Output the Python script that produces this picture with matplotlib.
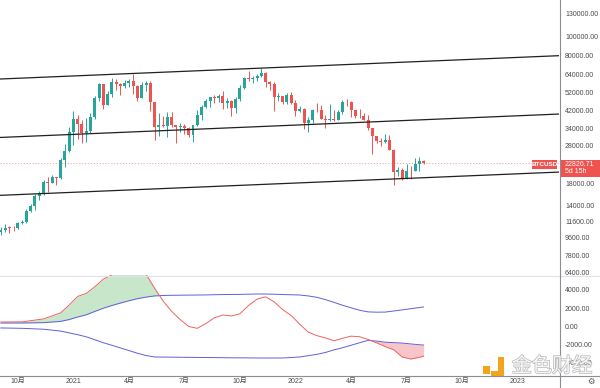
import numpy as np
import matplotlib
matplotlib.use("Agg")
import matplotlib.pyplot as plt
import matplotlib.patheffects as pe
from matplotlib.patches import Rectangle
from matplotlib.lines import Line2D
from matplotlib.ticker import NullLocator, FuncFormatter

plt.rcParams['font.family'] = ['Liberation Sans', 'Noto Sans CJK SC', 'DejaVu Sans']

# ---------------------------------------------------------------------------
#  Weekly BTCUSD candles, 2020-09-07 .. 2022-08-01 (bar index = week number)
# ---------------------------------------------------------------------------
opens = [10280, 10440, 10760, 10730, 10670, 11370, 11500, 13030, 13780, 15490,
         16050, 18400, 18180, 19380, 19150, 23800, 26280, 33000, 38150, 36000,
         32250, 33100, 38900, 48600, 57400, 45200, 51200, 59000, 57350, 55850,
         58100, 59800, 56200, 49000, 56600, 58200, 46400, 34700, 35500, 35300,
         39100, 35600, 34700, 35300, 34200, 31800, 35400, 39800, 43800, 47000,
         49300, 48800, 49900, 46000, 47300, 43200, 48200, 54700, 61500, 61100,
         61300, 63300, 65500, 58600, 57300, 49400, 50100, 46700, 50800, 46200,
         41900, 43100, 36300, 37900, 42400, 42200, 38400, 37700, 38100, 37800,
         41300, 46800, 46400, 42200, 39700, 39450, 37700, 34300, 31300, 29400,
         29200, 29900, 26600, 20550, 21030, 19300, 20850, 20800, 22600, 23300]
highs = [10800, 11180, 10940, 10960, 11500, 11740, 13350, 14100, 15960, 16500,
         18800, 19480, 19900, 19420, 24300, 28400, 34800, 41950, 40100, 37850,
         38600, 41000, 49700, 58350, 57500, 52650, 61800, 60600, 58400, 60000,
         61200, 64900, 57000, 58500, 59500, 59600, 46600, 40800, 39500, 41300,
         41300, 35800, 36600, 35900, 34600, 35400, 42600, 44800, 48100, 49300,
         50500, 51000, 52900, 48900, 47500, 49500, 56600, 62000, 67000, 63000,
         64300, 69000, 66300, 59300, 59100, 51900, 50100, 52000, 52100, 47600,
         44400, 43500, 38900, 42700, 45800, 44700, 39800, 45400, 42600, 42400,
         47700, 48200, 47100, 42400, 42900, 40800, 40000, 34400, 31300, 30600,
         32200, 31600, 26800, 21700, 21500, 22500, 22000, 24300, 24600, 23700]
lows = [9880, 10280, 10140, 10380, 10530, 11190, 11410, 12950, 13200, 14850,
        15800, 16250, 18000, 17600, 19020, 21900, 25900, 28100, 30300, 28850,
        29200, 32300, 37990, 47000, 43000, 44950, 49300, 53300, 50300, 54800,
        55500, 51000, 47000, 48800, 53000, 42000, 30000, 31500, 34800, 31000,
        34800, 28800, 32700, 32100, 31100, 29300, 35200, 37600, 43300, 43900,
        46200, 46500, 42900, 43400, 39600, 40800, 46900, 54000, 59600, 58000,
        59400, 62300, 55700, 53500, 42000, 47000, 45500, 45600, 45700, 39700,
        41300, 34000, 32900, 36300, 41600, 38000, 34300, 37500, 37200, 37600,
        40500, 44200, 39200, 38600, 38500, 37600, 33700, 25400, 28700, 28000,
        29000, 26500, 17600, 19600, 18700, 19000, 18900, 20800, 20700, 22700]
closes = [10440, 10760, 10730, 10670, 11370, 11500, 13030, 13780, 15490, 16050,
          18400, 18180, 19380, 19150, 23800, 26280, 33000, 38150, 36000, 32250,
          33100, 38900, 48600, 57400, 45200, 51200, 59000, 57350, 55850, 58100,
          59800, 56200, 49000, 56600, 58200, 46400, 34700, 35500, 35300, 39100,
          35600, 34700, 35300, 34200, 31800, 35400, 39800, 43800, 47000, 49300,
          48800, 49900, 46000, 47300, 43200, 48200, 54700, 61500, 61100, 61300,
          63300, 65500, 58600, 57300, 49400, 50100, 46700, 50800, 46200, 41900,
          43100, 36300, 37900, 42400, 42200, 38400, 37700, 38100, 37800, 41300,
          46800, 46400, 42200, 39700, 39450, 37700, 34300, 31300, 29400, 29200,
          29900, 26600, 20550, 21030, 19300, 20850, 20800, 22600, 23300, 22826.71]
last_price = 22826.71

# channel lines drawn on the chart: (bar, price) anchor pairs
channel_top = [(0, 60900), (130, 79800)]
channel_mid = [(0, 30800), (130, 40400)]
channel_low = [(0, 15680), (130, 20530)]

price_ticks = [6400, 7800, 9600, 11600, 14000, 18000, 28000, 34000,
               42000, 52000, 64000, 80000, 100000, 130000]

# ---------------------------------------------------------------------------
#  Lower pane oscillator (values read at these bar indices)
# ---------------------------------------------------------------------------
osc_bars = [0, 5, 10, 14, 16, 18, 20, 22, 24, 26, 28, 30, 32, 34, 36, 38, 40,
            42, 44, 46, 48, 50, 52, 54, 56, 58, 60, 62, 64, 66, 68, 70, 72, 74,
            76, 78, 80, 82, 84, 86, 88, 90, 92, 94, 96, 98, 99]
osc_line = [490, 510, 830, 1490, 2350, 3300, 3620, 4350, 5200, 5650, 6300,
            6700, 6600, 5750, 4200, 2800, 1650, 760, 0, -200, 320, 950, 1260,
            1150, 1400, 2300, 3000, 3250, 2700, 1850, 1200, 250, -620, -1000,
            -1250, -1560, -1300, -1060, -1120, -1420, -1800, -2200, -2550,
            -3350, -3560, -3380, -3250]
band_upper = [384, 384, 420, 560, 760, 1041, 1280, 1650, 2000, 2300, 2570,
              2820, 3050, 3220, 3350, 3400, 3420, 3430, 3440, 3450, 3460, 3480,
              3500, 3510, 3520, 3540, 3560, 3560, 3540, 3500, 3480, 3450, 3350,
              3200, 2950, 2650, 2330, 2050, 1780, 1600, 1570, 1580, 1700, 1820,
              1950, 2080, 2140]
band_lower = [-160, -200, -300, -500, -700, -900, -1130, -1450, -1780, -2060,
              -2350, -2640, -2930, -3180, -3340, -3350, -3360, -3370, -3380,
              -3390, -3400, -3410, -3420, -3430, -3435, -3440, -3450, -3455,
              -3455, -3450, -3400, -3340, -3200, -3050, -2850, -2560, -2330,
              -2060, -1780, -1520, -1600, -1720, -1770, -1820, -1910, -2000,
              -2030]
osc_ticks = [4000, 2000, 0, -2000, -4000]

month_bars = [4, 17, 30, 43, 56, 69, 82, 95, 108, 121]
month_labels = ['10月', '2021', '4月', '7月', '10月', '2022', '4月', '7月', '10月', '2023']

UP, DOWN = '#26a69a', '#ef5350'
TXT = '#4a4a4a'
W, H = 600, 388

fig = plt.figure(figsize=(W / 100, H / 100), dpi=100)
ax1 = fig.add_axes([0, (H - 275) / H, 559 / W, 275 / H])
ax2 = fig.add_axes([0, 13 / H, 559 / W, 100 / H])
XLIM = (-0.19, 130.7)

# ---- candles ----
o = np.array(opens, float)
c = np.array(closes, float)
bar = np.arange(len(o))
cols = np.where(c >= o, UP, DOWN)
lo_b = np.minimum(o, c)
hi_b = np.maximum(np.maximum(o, c), lo_b * 1.006)
ax1.vlines(bar, lows, highs, colors=cols, lw=0.7)
ax1.bar(bar, hi_b - lo_b, bottom=lo_b, width=0.7, color=cols, linewidth=0)

for line in (channel_top, channel_mid, channel_low):
    ax1.axline(line[0], line[1], color='#202020', lw=0.9)

ax1.axhline(last_price, color=DOWN, lw=0.6, ls=(0, (1.5, 2)), alpha=0.6)

ax1.set_yscale('log')
ax1.set_ylim(6190, 153000)
ax1.set_xlim(*XLIM)
ax1.yaxis.tick_right()
ax1.set_yticks(price_ticks)
ax1.yaxis.set_minor_locator(NullLocator())
ax1.yaxis.set_major_formatter(FuncFormatter(lambda v, p: f'{v:.2f}'))
ax1.set_xticks([])
ax1.tick_params(axis='y', length=0, pad=4.3, labelsize=5, labelcolor=TXT)

# ---- oscillator pane ----
ob = np.array(osc_bars, float)
ol = np.array(osc_line, float)
bu = np.array(band_upper, float)
bl = np.array(band_lower, float)
ax2.fill_between(ob, ol, bu, where=ol > bu, interpolate=True, color='#c8e6c9', lw=0)
ax2.fill_between(ob, ol, bl, where=ol < bl, interpolate=True, color='#f8c6ca', lw=0)
ax2.plot(ob, bu, color='#5f5fdc', lw=0.7)
ax2.plot(ob, bl, color='#5f5fdc', lw=0.7)
ax2.plot(ob, ol, color='#f06262', lw=0.7)
ax2.set_ylim(-5316, 5644)
ax2.set_xlim(*XLIM)
ax2.yaxis.tick_right()
ax2.set_yticks(osc_ticks)
ax2.yaxis.set_major_formatter(FuncFormatter(lambda v, p: f'{v:.2f}'))
ax2.set_xticks(month_bars)
ax2.set_xticklabels(month_labels)
ax2.tick_params(axis='y', length=0, pad=4.3, labelsize=5, labelcolor=TXT)
ax2.tick_params(axis='x', length=0, pad=2.2, labelsize=5, labelcolor=TXT)

for ax in (ax1, ax2):
    for s in ax.spines.values():
        s.set_visible(False)
    ax.set_facecolor('none')

# ---- frame lines ----
fig.add_artist(Line2D([0, 1], [1 - 275.5 / H] * 2, color='#e0e3eb', lw=0.8))
fig.add_artist(Line2D([0, 1], [1 - 375.5 / H] * 2, color='#8a8d96', lw=0.8))
fig.add_artist(Line2D([559.5 / W] * 2, [0, 1], color='#8a8d96', lw=0.8))

# ---- price labels ----
def px_rect(x0, y0, x1, y1, color):
    fig.add_artist(Rectangle((x0 / W, 1 - y1 / H), (x1 - x0) / W, (y1 - y0) / H,
                             transform=fig.transFigure, color=color, lw=0))

px_rect(532, 160, 557, 168.5, DOWN)
fig.text(544.5 / W, 1 - 164.3 / H, 'BTCUSD', color='white', fontsize=4.6,
         fontweight='bold', ha='center', va='center')
px_rect(560, 159.5, 600, 177, DOWN)
fig.text(565 / W, 1 - 164 / H, f'{last_price:.2f}', color='white', fontsize=5,
         ha='left', va='center')
fig.text(565 / W, 1 - 171.5 / H, '5d 15h', color='white', fontsize=5,
         ha='left', va='center')

# ---- settings gear ----
fig.text(591 / W, 1 - 381.5 / H, '\u2699', color='#555555', fontsize=6,
         family='DejaVu Sans', ha='center', va='center')

# ---- watermark ----
px_rect(483, 366, 489.5, 374, '#f2a51c')
px_rect(498, 357, 504, 377, '#f2a51c')
px_rect(491, 371, 504, 377, '#f2a51c')
wm = fig.text(552 / W, 1 - 366.5 / H, '金色财经', color='#fafafa', fontsize=14.5,
              family='Noto Sans CJK SC', ha='center', va='center', alpha=0.95)
wm.set_path_effects([pe.withStroke(linewidth=1.1, foreground='#b8b8b8')])

fig.savefig('out.png', dpi=100, facecolor='white')
